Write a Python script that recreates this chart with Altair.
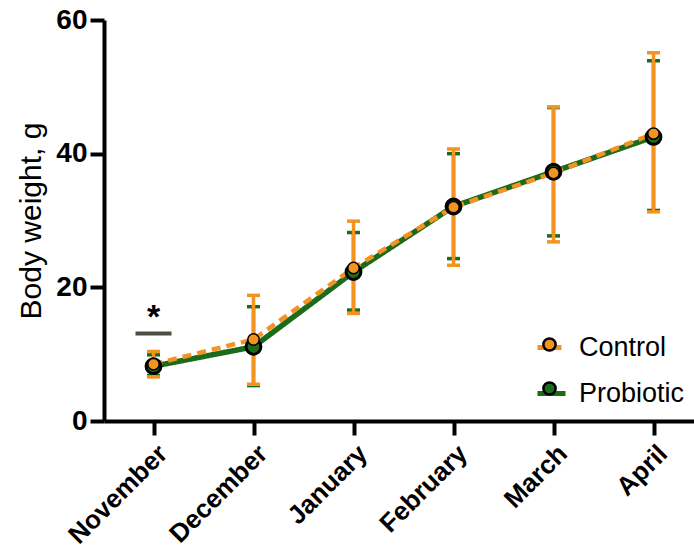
import altair as alt
import pandas as pd

months = ["November", "December", "January", "February", "March", "April"]
groups = ["Control", "Probiotic"]
control_mean = [8.5, 12.2, 22.9, 32.0, 37.1, 43.0]
control_lo = [6.6, 5.5, 16.1, 23.3, 26.8, 31.3]
control_hi = [10.4, 18.8, 29.9, 40.7, 47.0, 55.1]
probiotic_mean = [8.2, 11.1, 22.3, 32.1, 37.3, 42.5]
probiotic_lo = [6.8, 5.3, 16.6, 24.3, 27.7, 31.5]
probiotic_hi = [9.9, 17.1, 28.2, 40.0, 46.9, 53.9]
sig_month = ["November"]
sig_bar = [13.1]
sig_star = [16.4]
sig_text = ["*"]

ORANGE = "#F29322"
GREEN = "#1B6B1B"
FONT = "Liberation Sans"

rows = []
for g, m, lo, hi in [("Control", control_mean, control_lo, control_hi),
                     ("Probiotic", probiotic_mean, probiotic_lo, probiotic_hi)]:
    for i, mo in enumerate(months):
        rows.append(dict(month=mo, group=g, group2=g, mean=m[i], lo=lo[i], hi=hi[i]))
df = pd.DataFrame(rows)
sig = pd.DataFrame(dict(month=sig_month, bar=sig_bar, star=sig_star, text=sig_text))

xenc = alt.X("month:O", sort=months,
             scale=alt.Scale(type="point", padding=0.45, align=0.55),
             axis=alt.Axis(title=None, labelAngle=315, labelAlign="right",
                           labelBaseline="top", labelPadding=5, labelFontSize=26))
yscale = alt.Scale(domain=[0, 60], nice=False)
yaxis = alt.Axis(values=[0, 20, 40, 60], title="Body weight, g", grid=False,
                 titlePadding=9, labelPadding=3)

base = alt.Chart(df)
ctrl = base.transform_filter(alt.datum.group == "Control")
prob = base.transform_filter(alt.datum.group == "Probiotic")


def errbars(src, color):
    rule = src.mark_rule(color=color, strokeWidth=3.5, opacity=1).encode(
        x=xenc, y=alt.Y("lo:Q", scale=yscale, axis=yaxis), y2="hi:Q")
    cap_lo = src.mark_tick(color=color, size=13, thickness=3.5, opacity=1).encode(
        x=xenc, y=alt.Y("lo:Q", scale=yscale, axis=yaxis))
    cap_hi = src.mark_tick(color=color, size=13, thickness=3.5, opacity=1).encode(
        x=xenc, y=alt.Y("hi:Q", scale=yscale, axis=yaxis))
    return [rule, cap_lo, cap_hi]


line_legend = alt.Legend(title=None, orient="none", legendX=431, legendY=311,
                         symbolType="stroke", symbolSize=784, symbolStrokeWidth=5,
                         labelFont=FONT, labelFontSize=27, labelColor="black",
                         labelOffset=11, rowPadding=16, padding=0, zindex=0)
cscale = alt.Scale(domain=groups, range=[ORANGE, GREEN])
dscale = alt.Scale(domain=groups, range=[[9, 6], [1, 0]])


def line(src, width):
    return src.mark_line(strokeWidth=width).encode(
        x=xenc, y=alt.Y("mean:Q", scale=yscale, axis=yaxis),
        color=alt.Color("group:N", scale=cscale, legend=line_legend),
        strokeDash=alt.StrokeDash("group:N", scale=dscale, legend=line_legend))


pt_legend = alt.Legend(title=None, orient="none", legendX=432, legendY=311,
                       symbolType="circle", symbolSize=150, symbolStrokeColor="black",
                       symbolStrokeWidth=2.5, labelFont=FONT, labelFontSize=27,
                       labelExpr="''", labelOffset=11, rowPadding=16, padding=0, zindex=1)
fscale = alt.Scale(range=[ORANGE, GREEN])


def points(src, size, sw):
    return src.mark_circle(size=size, stroke="black", strokeWidth=sw, opacity=1).encode(
        x=xenc, y=alt.Y("mean:Q", scale=yscale, axis=yaxis),
        fill=alt.Fill("group2:N", scale=fscale, legend=pt_legend))


sig_base = alt.Chart(sig)
sig_bar_layer = sig_base.mark_tick(color="#4B4E40", size=36, thickness=4, opacity=1).encode(
    x=xenc, y=alt.Y("bar:Q", scale=yscale, axis=yaxis))
sig_star_layer = sig_base.mark_text(font=FONT, fontSize=34, fontWeight="bold", color="black",
                                    baseline="middle", dy=7).encode(
    x=xenc, y=alt.Y("star:Q", scale=yscale, axis=yaxis), text="text:N")

layers = (errbars(prob, GREEN) + errbars(ctrl, ORANGE)
          + [line(prob, 5.5), line(ctrl, 4.5), points(prob, 220, 3), points(ctrl, 130, 1.5),
             sig_bar_layer, sig_star_layer])

chart = alt.layer(*layers).properties(
    width=590, height=401,
    autosize=alt.AutoSizeParams(type="none"),
    padding={"left": 104, "top": 20, "right": 0, "bottom": 131},
).configure_view(stroke=None).configure_axis(
    domainColor="black", domainWidth=4, tickColor="black", tickWidth=4, tickSize=14,
    labelFont=FONT, labelFontWeight="bold", labelFontSize=28, labelColor="black",
    titleFont=FONT, titleFontSize=30, titleFontWeight="normal", titleColor="black",
)

chart.save("out.html", embed_options={"renderer": "svg", "actions": False})
